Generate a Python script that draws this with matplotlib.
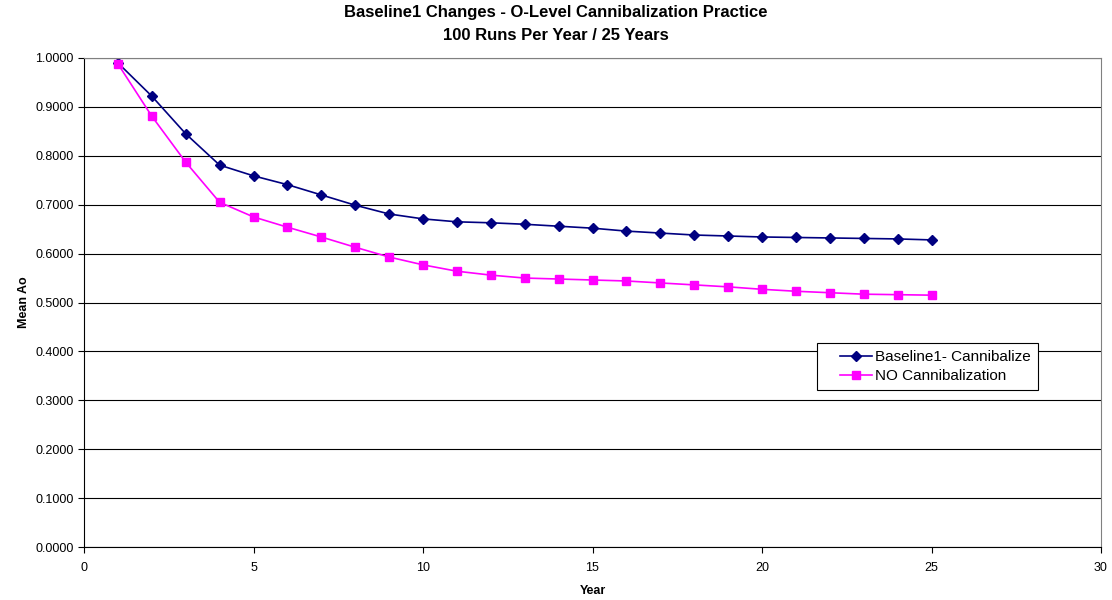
import numpy as np
import matplotlib
matplotlib.use("Agg")
import matplotlib.pyplot as plt
from matplotlib.legend_handler import HandlerLine2D

plt.rcParams["font.family"] = ["Liberation Sans", "DejaVu Sans"]

years = list(range(1, 26))
baseline = [0.990, 0.922, 0.845, 0.781, 0.759, 0.741, 0.720, 0.699, 0.681, 0.671,
            0.665, 0.663, 0.660, 0.656, 0.652, 0.646, 0.642, 0.638, 0.636, 0.634,
            0.633, 0.632, 0.631, 0.630, 0.628]
no_cannibal = [0.988, 0.881, 0.787, 0.705, 0.675, 0.654, 0.634, 0.613, 0.593, 0.577,
               0.564, 0.556, 0.550, 0.548, 0.546, 0.544, 0.540, 0.536, 0.532, 0.527,
               0.523, 0.520, 0.517, 0.516, 0.515]

fig = plt.figure(figsize=(11.12, 6.0), dpi=100)
ax = fig.add_axes([84 / 1112, 53 / 600, 1017 / 1112, 489 / 600])

l1, = ax.plot(years, baseline, color="#000080", marker="D", markersize=5, linewidth=1.2,
              label="Baseline1- Cannibalize")
l2, = ax.plot(years, no_cannibal, color="#FF00FF", marker="s", markersize=6, linewidth=1.2,
              label="NO Cannibalization")

ax.set_xlim(0, 30)
ax.set_ylim(0, 1.0)
ax.set_xticks(range(0, 31, 5))
ax.set_yticks(np.arange(0, 1.01, 0.1))
ax.yaxis.set_major_formatter(matplotlib.ticker.FormatStrFormatter("%.4f"))
ax.grid(True, axis="y", color="black", linewidth=0.8)
ax.set_axisbelow(True)
ax.tick_params(direction="out", length=4, labelsize=9)
ax.tick_params(axis="x", pad=7)
for side in ["top", "right"]:
    ax.spines[side].set_color("#808080")
ax.set_xlabel("Year", fontsize=9, fontweight="bold", labelpad=8)
ax.set_ylabel("Mean Ao", fontsize=9, fontweight="bold")

fig.text(0.5, 1 - 13 / 600, "Baseline1 Changes - O-Level Cannibalization Practice",
         ha="center", va="center", fontsize=12, fontweight="bold")
fig.text(0.5, 1 - 35 / 600, "100 Runs Per Year / 25 Years",
         ha="center", va="center", fontsize=12, fontweight="bold")

hm = {l1: HandlerLine2D(xpad=1.05), l2: HandlerLine2D(xpad=1.05)}
leg = ax.legend(loc="upper left", bbox_to_anchor=(0.721, 0.417), fontsize=11,
                fancybox=False, framealpha=1, edgecolor="black", borderpad=0.45,
                borderaxespad=0, handlelength=3.15, handletextpad=0.2,
                labelspacing=0.35, handler_map=hm)
leg.get_frame().set_linewidth(0.8)

fig.savefig("out.png", dpi=100)
